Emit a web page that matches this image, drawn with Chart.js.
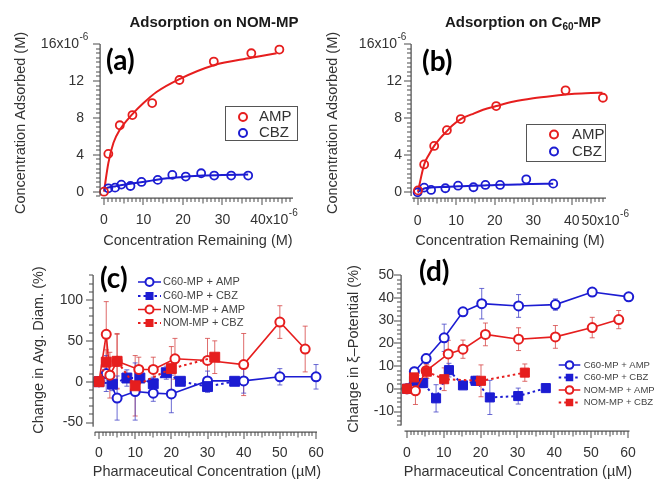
<!DOCTYPE html>
<html><head><meta charset="utf-8">
<script src="https://cdn.jsdelivr.net/npm/chart.js@4.4.1/dist/chart.umd.min.js"></script>
<style>
html,body{margin:0;padding:0;background:#fff;}
#wrap{position:relative;width:654px;height:482px;overflow:hidden;background:#fff;}
canvas{position:absolute;left:0;top:0;}
</style></head><body><div id="wrap">
<canvas id="ca" width="654" height="482"></canvas>
<canvas id="cb" width="654" height="482"></canvas>
<canvas id="cc" width="654" height="482"></canvas>
<canvas id="cd" width="654" height="482"></canvas>
<canvas id="ov" width="654" height="482"></canvas>
</div>
<script>
// ---------------- DATA ----------------
// (a) Adsorption on NOM-MP (x: Concentration Remaining, y: Concentration Adsorbed, x10^-6 M)
const aAmpX = [0, 1.1, 4.0, 7.2, 12.2, 19.1, 27.8, 37.3, 44.4];
const aAmpY = [0, 4.1, 7.2, 8.3, 9.6, 12.1, 14.1, 15.0, 15.4];
const aCbzX = [1.1, 2.8, 4.4, 6.7, 9.5, 13.6, 17.3, 20.7, 24.6, 27.9, 32.2, 36.5];
const aCbzY = [0.37, 0.44, 0.77, 0.62, 1.06, 1.28, 1.82, 1.64, 2.0, 1.75, 1.75, 1.75];
const aAmpFitX = [0, 1.1, 2.4, 4, 7.2, 10, 13.3, 19.1, 27.8, 37.3, 43.7];
const aAmpFitY = [0, 3.1, 5.3, 6.7, 8.4, 9.6, 10.8, 12.2, 13.7, 14.5, 15.0];
const aCbzFitX = [0.3, 1.1, 3, 5, 8, 12, 16, 20, 25, 30, 36.5];
const aCbzFitY = [0.3, 0.45, 0.6, 0.75, 0.95, 1.2, 1.45, 1.6, 1.75, 1.82, 1.86];
const aXTicks = [0, 10, 20, 30, 40];
const aYTicks = [0, 4, 8, 12, 16];
// (b) Adsorption on C60-MP
const bAmpX = [0.1, 1.7, 4.3, 7.6, 11.2, 20.4, 38.4, 48.1];
const bAmpY = [0.2, 3.0, 5.0, 6.7, 7.9, 9.3, 11.0, 10.2];
const bCbzX = [0, 1.7, 3.5, 7.2, 10.5, 14.5, 17.6, 21.4, 28.2, 35.2];
const bCbzY = [0, 0.5, 0.25, 0.43, 0.71, 0.54, 0.79, 0.79, 1.4, 0.93];
const bAmpFitX = [0.1, 1.7, 3, 4.3, 6, 7.6, 9, 11.2, 14, 17, 20.4, 25, 30, 35, 40, 45, 48];
const bAmpFitY = [0.1, 3.0, 4.1, 5.0, 5.9, 6.6, 7.2, 7.9, 8.4, 8.9, 9.3, 9.8, 10.15, 10.4, 10.6, 10.7, 10.75];
const bCbzFitX = [0, 1.7, 3.5, 7.2, 10.5, 14.5, 18, 21.4, 26, 29, 35.2];
const bCbzFitY = [0, 0.4, 0.5, 0.58, 0.65, 0.7, 0.75, 0.8, 0.85, 0.9, 0.93];
const bXTicks = [0, 10, 20, 30, 40, 50];
const bYTicks = [0, 4, 8, 12, 16];
// (c) Change in Avg. Diam. (%)
const cNames = ['C60-MP + AMP', 'C60-MP + CBZ', 'NOM-MP + AMP', 'NOM-MP + CBZ'];
const cC60AmpX = [0, 2, 5, 10, 15, 20, 30, 40, 50, 60];
const cC60AmpY = [0, 10, -20, -12, -14, -15, 1, 1, 6, 6];
const cC60AmpE = [0, 22, 27, 35, 10, 23, 12, 15, 10, 15];
const cC60CbzX = [0, 3.7, 7.7, 11.3, 15, 18.6, 22.5, 30, 37.5];
const cC60CbzY = [0, -3, 4.5, 4.5, -2.5, 11, 0.5, -6, 0.5];
const cC60CbzE = [0, 8, 10, 5, 8, 8, 3, 7, 3];
const cNomAmpX = [0, 2, 3, 5, 11, 15, 21, 30, 40, 50, 57];
const cNomAmpY = [0, 58, 8, 25, 15, 15, 28, 26, 21, 73, 40];
const cNomAmpE = [0, 40, 28, 34, 15, 15, 25, 27, 38, 20, 28];
const cNomCbzX = [0, 2, 5, 10, 20, 32];
const cNomCbzY = [0, 24, 25, -5, 16, 30];
const cNomCbzE = [0, 15, 33, 37, 27, 20];
const cXTicks = [0, 10, 20, 30, 40, 50, 60];
const cYTicks = [-50, 0, 50, 100];
// (d) Change in zeta-Potential (%)
const dC60AmpX = [0, 2, 5.2, 10.1, 15.2, 20.3, 30.3, 40.3, 50.3, 60.2];
const dC60AmpY = [0, 7.5, 13.3, 22.4, 33.8, 37.4, 36.4, 37, 42.5, 40.4];
const dC60AmpE = [0, 2, 2, 6, 1.5, 6.7, 5, 2.5, 1.5, 1];
const dC60CbzX = [0, 1.9, 4.4, 7.9, 11.4, 15.2, 18.6, 22.5, 30.2, 37.7];
const dC60CbzY = [0, 3.5, 2.5, -4.2, 8.2, 1.5, 3.5, -3.8, -3.2, 0.3];
const dC60CbzE = [0, 2, 2, 6, 3, 1, 2, 7.5, 3.5, 1];
const dNomAmpX = [0, 2.3, 5.2, 11.2, 15.2, 21.3, 30.3, 40.3, 50.3, 57.5];
const dNomAmpY = [0, -0.9, 7.9, 15.3, 17.4, 23.9, 21.8, 22.8, 26.9, 30.4];
const dNomAmpE = [0, 6, 3, 6, 4, 5, 5, 5, 4.5, 4];
const dNomCbzX = [0, 1.9, 5.4, 10.1, 20.1, 32];
const dNomCbzY = [0, 5, 7.5, 4.2, 3.5, 7.1];
const dNomCbzE = [0, 3, 3, 5, 7, 3.8];
const dXTicks = [0, 10, 20, 30, 40, 50, 60];
const dYTicks = [-10, 0, 10, 20, 30, 40, 50];

const RED = '#e61e1e', BLUE = '#1c1cd2';
const RED_ERR = 'rgba(214,70,70,0.8)', BLUE_ERR = 'rgba(70,70,200,0.8)';
const AXC = '#4a4a4a', TXT = '#333333';
const F = '"Liberation Sans", Arial, sans-serif';

function pts(xs, ys) { return xs.map((x, i) => ({ x: x, y: ys[i] })); }
function ticksOf(min, max, step) {
  const out = []; let k = Math.ceil(min / step - 1e-9);
  for (; k * step <= max + 1e-9; k++) out.push(+(k * step).toFixed(6));
  return out;
}
function isMult(v, s) { const q = v / s; return Math.abs(q - Math.round(q)) < 1e-6; }
function drawExpLabel(ctx, base, exp, startX, y, fs) {
  ctx.textAlign = 'left';
  ctx.font = fs + 'px ' + F;
  ctx.fillText(base, startX, y);
  const w = ctx.measureText(base).width;
  ctx.font = Math.round(fs * 0.72) + 'px ' + F;
  ctx.fillText(exp, startX + w + 0.5, y - fs * 0.45);
}
const dbg = [];
function drawAxisLines(ctx, chart, c) {
  const xs = chart.scales.x, ys = chart.scales.y;
  const L = xs.getPixelForValue(c.x.min), R = xs.getPixelForValue(c.x.max);
  const T = ys.getPixelForValue(c.y.max), B = ys.getPixelForValue(c.y.min);
  const yx = Math.round(L), xy = Math.round(B);
  const yt = ticksOf(c.y.min, c.y.max, c.y.minor), xt = ticksOf(c.x.min, c.x.max, c.x.minor);
  dbg.push(c.id + ' ' + L + ' ' + R + ' ' + T + ' ' + B + ' ' + ctx.fillStyle + ' ' + ctx.globalAlpha + ' ' + ctx.globalCompositeOperation);
  ctx.fillStyle = AXC;
  ctx.fillRect(yx - 0.5, T, 1.2, (B - c.yGap) - T);
  ctx.fillRect(L + c.xGap, xy - 0.5, R - L - c.xGap, 1.2);
  yt.forEach(v => {
    const p = Math.round(ys.getPixelForValue(v));
    if (p > B - c.yGap + 0.6) return;
    const len = isMult(v, c.y.major) ? 7 : 4;
    ctx.fillRect(yx - len, p - 0.5, len, 1);
  });
  xt.forEach(v => {
    const p = Math.round(xs.getPixelForValue(v));
    if (p < L + c.xGap) return;
    const len = isMult(v, c.x.major) ? 7 : (isMult(v, c.x.major / 2) ? 5.5 : 4);
    ctx.fillRect(p - 0.5, xy, 1, len);
  });
}
function drawTag(ctx, c) {
  ctx.fillStyle = '#000'; ctx.font = 'bold 28px Lato, "Open Sans", sans-serif';
  ctx.textAlign = 'left'; ctx.textBaseline = 'middle';
  ctx.fillText(c.tag.text, c.tag.x, c.tag.y);
}

function makePlugin(c) {
  return {
    id: 'deco_' + c.id,
    beforeDatasetsDraw(chart) {
      const ctx = chart.ctx, xs = chart.scales.x, ys = chart.scales.y;
      ctx.save();
      chart.data.datasets.forEach(ds => {
        if (!ds.errs) return;
        ctx.strokeStyle = ds.errColor; ctx.lineWidth = 1;
        ds.data.forEach((p, i) => {
          const e = ds.errs[i]; if (!e) return;
          const px = xs.getPixelForValue(p.x);
          const y1 = ys.getPixelForValue(p.y + e), y2 = ys.getPixelForValue(p.y - e);
          ctx.beginPath();
          ctx.moveTo(px, y1); ctx.lineTo(px, y2);
          ctx.moveTo(px - 2.5, y1); ctx.lineTo(px + 2.5, y1);
          ctx.moveTo(px - 2.5, y2); ctx.lineTo(px + 2.5, y2);
          ctx.stroke();
        });
      });
      ctx.restore();
    },
    afterDraw(chart) {
      const ctx = chart.ctx, xs = chart.scales.x, ys = chart.scales.y;
      ctx.save();
      ctx.fillStyle = TXT; ctx.textBaseline = 'middle';
      const fs = c.tickFont;
      c.y.ticks.forEach((v, i) => {
        const p = ys.getPixelForValue(v);
        if (c.y.exp && i === c.y.ticks.length - 1) {
          ctx.font = fs + 'px ' + F;
          const w = ctx.measureText(v + 'x10').width;
          drawExpLabel(ctx, v + 'x10', c.y.exp, c.y.labelRight - 5 - w, p, fs);
        } else {
          ctx.font = fs + 'px ' + F; ctx.textAlign = 'right';
          ctx.fillText(String(v), c.y.labelRight, p);
        }
      });
      c.x.ticks.forEach((v, i) => {
        const p = xs.getPixelForValue(v);
        if (c.x.exp && i === c.x.ticks.length - 1) {
          ctx.font = fs + 'px ' + F;
          const nw = ctx.measureText(String(v)).width;
          drawExpLabel(ctx, v + 'x10', c.x.exp, p - nw / 2 + c.x.lastShift, c.x.labelY, fs);
        } else {
          ctx.font = fs + 'px ' + F; ctx.textAlign = 'center';
          ctx.fillText(String(v), p, c.x.labelY);
        }
      });
      ctx.font = c.titleFont + 'px ' + F; ctx.textAlign = 'center';
      ctx.fillText(c.xTitle.text, c.xTitle.x, c.xTitle.y);
      ctx.save();
      ctx.translate(c.yTitle.x, c.yTitle.y); ctx.rotate(-Math.PI / 2);
      ctx.fillText(c.yTitle.text, 0, 0);
      ctx.restore();
      if (c.title) {
        ctx.fillStyle = '#1a1a1a';
        let tot = 0;
        c.title.parts.forEach(pt => { ctx.font = 'bold ' + pt[1] + 'px ' + F; tot += ctx.measureText(pt[0]).width; });
        let x = c.title.x - tot / 2;
        ctx.textAlign = 'left';
        c.title.parts.forEach(pt => {
          ctx.font = 'bold ' + pt[1] + 'px ' + F;
          ctx.fillText(pt[0], x, c.title.y + (pt[2] || 0));
          x += ctx.measureText(pt[0]).width;
        });
      }
      const Lg = c.legend;
      if (Lg && Lg.box) {
        ctx.strokeStyle = '#555'; ctx.lineWidth = 1;
        ctx.strokeRect(Lg.box[0] + 0.5, Lg.box[1] + 0.5, Lg.box[2], Lg.box[3]);
      }
      if (Lg) {
        Lg.items.forEach((it, i) => {
          const y = Lg.rows[i];
          if (Lg.line) {
            ctx.save();
            ctx.strokeStyle = it.color; ctx.lineWidth = it.dash ? 2 : 1.5;
            ctx.setLineDash(it.dash ? [2.5, 3] : []);
            ctx.beginPath(); ctx.moveTo(Lg.x0, y); ctx.lineTo(Lg.x1, y); ctx.stroke();
            ctx.restore();
          }
          if (it.marker === 'circle') {
            ctx.beginPath(); ctx.arc(Lg.mx, y, Lg.r, 0, Math.PI * 2);
            ctx.fillStyle = '#fff'; ctx.fill();
            ctx.strokeStyle = it.color; ctx.lineWidth = 2; ctx.stroke();
          } else {
            ctx.fillStyle = it.color;
            ctx.fillRect(Lg.mx - Lg.sq / 2, y - Lg.sq / 2, Lg.sq, Lg.sq);
          }
          ctx.fillStyle = Lg.textColor; ctx.font = Lg.font + 'px ' + F;
          ctx.textAlign = 'left'; ctx.textBaseline = 'middle';
          ctx.fillText(it.label, Lg.tx, y);
        });
      }
      ctx.restore();
    }
  };
}

function build(id, c, datasets) {
  const A = c.area;
  return new Chart(document.getElementById(id), {
    type: 'scatter',
    data: { datasets: datasets },
    options: {
      responsive: false, animation: false, events: [],
      layout: { padding: { left: A.l, top: A.t, right: 654 - A.r, bottom: 482 - A.b } },
      scales: {
        x: { type: 'linear', display: false, min: c.x.min, max: c.x.max },
        y: { type: 'linear', display: false, min: c.y.min, max: c.y.max }
      },
      plugins: { legend: { display: false }, tooltip: { enabled: false }, title: { display: false } }
    },
    plugins: [makePlugin(c)]
  });
}
function ptsSet(xs, ys, color, r, order) {
  return { data: pts(xs, ys), showLine: false, pointStyle: 'circle', pointRadius: r,
    pointBorderColor: color, pointBackgroundColor: 'rgba(255,255,255,0)', pointBorderWidth: 1.8,
    order: order, clip: false };
}
function fitSet(xs, ys, color, order) {
  return { data: pts(xs, ys), showLine: true, pointRadius: 0, borderColor: color, borderWidth: 2,
    cubicInterpolationMode: 'monotone', order: order, clip: false };
}
function serSet(xs, ys, es, color, errColor, marker, dashed, order, r) {
  return { data: pts(xs, ys), errs: es, errColor: errColor, showLine: true,
    borderColor: color, borderWidth: dashed ? 2 : 1.6, borderDash: dashed ? [2.5, 3] : [],
    pointStyle: marker, pointRadius: r, pointBorderColor: color,
    pointBackgroundColor: marker === 'circle' ? '#fff' : color, pointBorderWidth: marker === 'circle' ? 2 : 1,
    order: order, clip: false };
}

const cfgA = {
  id: 'a', area: { l: 100, t: 44, r: 293, b: 197.7 }, xGap: 1, yGap: 2, tickFont: 14, titleFont: 14.5,
  x: { min: -1.01, max: 47.85, minor: 1, major: 10, ticks: aXTicks, labelY: 220, exp: '-6', lastShift: -4 },
  y: { min: -0.65, max: 16, minor: 0.5, major: 4, ticks: aYTicks, labelRight: 84, exp: '-6' },
  xTitle: { text: 'Concentration Remaining (M)', x: 198, y: 241 },
  yTitle: { text: 'Concentration Adsorbed (M)', x: 21, y: 123 },
  tag: { text: '(a)', x: 106, y: 61 },
  title: { parts: [['Adsorption on NOM-MP', 15]], x: 214, y: 23 },
  legend: { box: [225, 106, 72, 34], rows: [117, 133], mx: 243, r: 4, tx: 259, font: 15, textColor: '#333',
    items: [{ label: 'AMP', color: RED, marker: 'circle' }, { label: 'CBZ', color: BLUE, marker: 'circle' }] }
};
const chA = build('ca', cfgA, [
  ptsSet(aAmpX, aAmpY, RED, 4, 1), ptsSet(aCbzX, aCbzY, BLUE, 4, 2),
  fitSet(aAmpFitX, aAmpFitY, RED, 3), fitSet(aCbzFitX, aCbzFitY, BLUE, 4)
]);
const cfgB = {
  id: 'b', area: { l: 411.3, t: 44, r: 606, b: 198 }, xGap: 1, yGap: 2, tickFont: 14, titleFont: 14.5,
  x: { min: -1.64, max: 48.9, minor: 1, major: 10, ticks: bXTicks, labelY: 221, exp: '-6', lastShift: -21 },
  y: { min: -0.62, max: 16, minor: 0.5, major: 4, ticks: bYTicks, labelRight: 402, exp: '-6' },
  xTitle: { text: 'Concentration Remaining (M)', x: 510, y: 241 },
  yTitle: { text: 'Concentration Adsorbed (M)', x: 333, y: 123 },
  tag: { text: '(b)', x: 422, y: 62 },
  title: { parts: [['Adsorption on C', 15], ['60', 10, 4], ['-MP', 15]], x: 523, y: 23 },
  legend: { box: [526, 124, 79, 37], rows: [134.5, 151.5], mx: 554, r: 4, tx: 572, font: 15, textColor: '#333',
    items: [{ label: 'AMP', color: RED, marker: 'circle' }, { label: 'CBZ', color: BLUE, marker: 'circle' }] }
};
const chB = build('cb', cfgB, [
  ptsSet(bAmpX, bAmpY, RED, 4, 1), ptsSet(bCbzX, bCbzY, BLUE, 4, 2),
  fitSet(bAmpFitX, bAmpFitY, RED, 3), fitSet(bCbzFitX, bCbzFitY, BLUE, 4)
]);
const cfgC = {
  id: 'c', area: { l: 93.3, t: 275, r: 317, b: 431.7 }, xGap: 1.5, yGap: 5, tickFont: 14, titleFont: 14.5,
  x: { min: -1.58, max: 60.27, minor: 1, major: 10, ticks: cXTicks, labelY: 453 },
  y: { min: -61.2, max: 130.6, minor: 10, major: 50, ticks: cYTicks, labelRight: 83 },
  xTitle: { text: 'Pharmaceutical Concentration (\u00B5M)', x: 207, y: 472 },
  yTitle: { text: 'Change in Avg. Diam. (%)', x: 38.5, y: 350 },
  tag: { text: '(c)', x: 100, y: 279 },
  legend: { line: true, rows: [282, 296, 309.5, 323], x0: 138, x1: 161, mx: 149.5, r: 4, sq: 8, tx: 163, font: 11, textColor: '#444',
    items: [{ label: cNames[0], color: BLUE, marker: 'circle' }, { label: cNames[1], color: BLUE, marker: 'rect', dash: true },
            { label: cNames[2], color: RED, marker: 'circle' }, { label: cNames[3], color: RED, marker: 'rect', dash: true }] }
};
const chC = build('cc', cfgC, [
  serSet(cNomCbzX, cNomCbzY, cNomCbzE, RED, RED_ERR, 'rect', true, 1, 7),
  serSet(cNomAmpX, cNomAmpY, cNomAmpE, RED, RED_ERR, 'circle', false, 2, 4.5),
  serSet(cC60CbzX, cC60CbzY, cC60CbzE, BLUE, BLUE_ERR, 'rect', true, 3, 7),
  serSet(cC60AmpX, cC60AmpY, cC60AmpE, BLUE, BLUE_ERR, 'circle', false, 4, 4.5)
]);
const cfgD = {
  id: 'd', area: { l: 400.5, t: 275, r: 629.5, b: 430.5 }, xGap: 4, yGap: 5, tickFont: 14, titleFont: 14.5,
  x: { min: -1.76, max: 60.42, minor: 1, major: 10, ticks: dXTicks, labelY: 453 },
  y: { min: -18.33, max: 50, minor: 2, major: 10, ticks: dYTicks, labelRight: 394 },
  xTitle: { text: 'Pharmaceutical Concentration (\u00B5M)', x: 518, y: 472 },
  yTitle: { text: 'Change in \u03BE\u2013Potential (%)', x: 354, y: 349 },
  tag: { text: '(d)', x: 419, y: 272 },
  legend: { line: true, rows: [365, 377.5, 390, 402.5], x0: 558.7, x1: 580.3, mx: 569.5, r: 3.8, sq: 7.5, tx: 583.7, font: 9.5, textColor: '#444',
    items: [{ label: cNames[0], color: BLUE, marker: 'circle' }, { label: cNames[1], color: BLUE, marker: 'rect', dash: true },
            { label: cNames[2], color: RED, marker: 'circle' }, { label: cNames[3], color: RED, marker: 'rect', dash: true }] }
};
const chD = build('cd', cfgD, [
  serSet(dNomCbzX, dNomCbzY, dNomCbzE, RED, RED_ERR, 'rect', true, 1, 6.4),
  serSet(dNomAmpX, dNomAmpY, dNomAmpE, RED, RED_ERR, 'circle', false, 2, 4.5),
  serSet(dC60CbzX, dC60CbzY, dC60CbzE, BLUE, BLUE_ERR, 'rect', true, 3, 6.4),
  serSet(dC60AmpX, dC60AmpY, dC60AmpE, BLUE, BLUE_ERR, 'circle', false, 4, 4.5)
]);

// axes and ticks (from each chart's own scales), then panel tags, on the top canvas
const ovCtx = document.getElementById('ov').getContext('2d');
const panels = [[chA, cfgA], [chB, cfgB], [chC, cfgC], [chD, cfgD]];
panels.forEach(pair => drawAxisLines(ovCtx, pair[0], pair[1]));
panels.forEach(pair => drawTag(ovCtx, pair[1]));
ovCtx.getImageData(0, 0, 1, 1);
</script>
</body></html>
